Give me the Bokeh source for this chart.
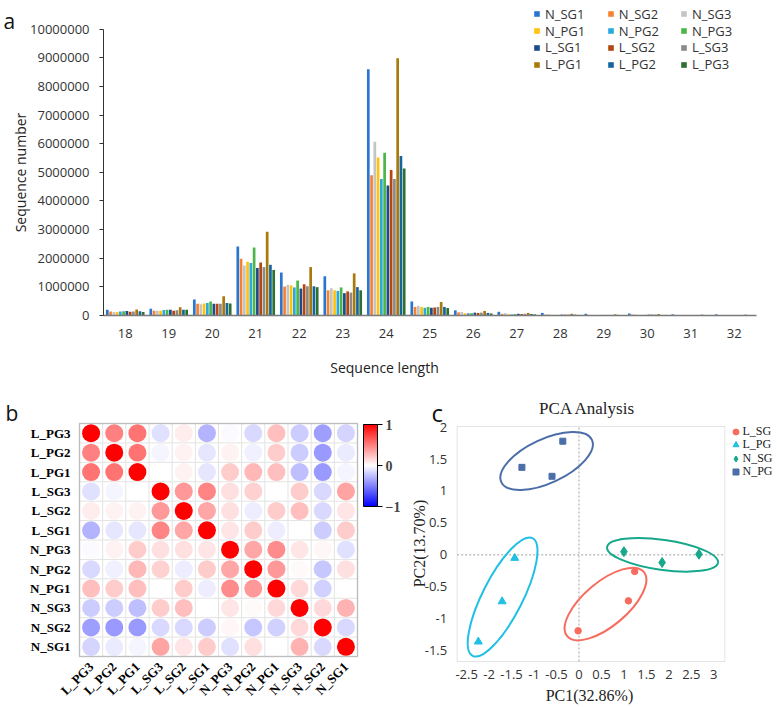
import math
from bokeh.plotting import figure
from bokeh.layouts import column, row
from bokeh.models import (ColumnDataSource, Range1d, FixedTicker, BasicTickFormatter,
                          Legend, LegendItem, Label, ColorBar, LinearColorMapper,
                          CustomJSTickFormatter, BoxAnnotation)
from bokeh.transform import dodge, transform
from bokeh.embed import file_html
from bokeh.resources import INLINE

# ---------------- panel a data ----------------
lengths = ["18", "19", "20", "21", "22", "23", "24", "25", "26", "27", "28", "29", "30", "31", "32"]
N_SG1 = [200000, 240000, 560000, 2410000, 1500000, 1370000, 8600000, 490000, 180000, 130000, 90000, 60000, 70000, 40000, 40000]
N_SG2 = [140000, 170000, 410000, 1980000, 1010000, 880000, 4900000, 300000, 110000, 60000, 30000, 20000, 30000, 10000, 10000]
N_SG3 = [120000, 170000, 390000, 1750000, 1070000, 950000, 6070000, 340000, 120000, 80000, 40000, 20000, 30000, 10000, 10000]
N_PG1 = [120000, 170000, 420000, 1880000, 1050000, 880000, 5520000, 300000, 80000, 40000, 20000, 10000, 20000, 10000, 10000]
N_PG2 = [140000, 190000, 440000, 1830000, 980000, 860000, 4770000, 270000, 80000, 40000, 20000, 10000, 20000, 10000, 10000]
N_PG3 = [150000, 200000, 490000, 2370000, 1220000, 980000, 5680000, 300000, 80000, 50000, 20000, 20000, 20000, 10000, 10000]
L_SG1 = [160000, 200000, 410000, 1660000, 940000, 780000, 4540000, 270000, 100000, 60000, 30000, 20000, 30000, 10000, 10000]
L_SG2 = [130000, 170000, 410000, 1850000, 1090000, 840000, 5080000, 280000, 90000, 50000, 30000, 20000, 30000, 10000, 10000]
L_SG3 = [140000, 180000, 410000, 1690000, 1020000, 800000, 4770000, 300000, 100000, 60000, 30000, 20000, 30000, 10000, 10000]
L_PG1 = [210000, 290000, 670000, 2920000, 1690000, 1470000, 8980000, 470000, 160000, 90000, 60000, 40000, 50000, 30000, 30000]
L_PG2 = [150000, 200000, 440000, 1770000, 1020000, 990000, 5570000, 300000, 90000, 50000, 30000, 20000, 20000, 10000, 10000]
L_PG3 = [120000, 200000, 420000, 1590000, 990000, 880000, 5130000, 260000, 70000, 40000, 20000, 10000, 20000, 10000, 10000]
series_names = ["N_SG1", "N_SG2", "N_SG3", "N_PG1", "N_PG2", "N_PG3",
                "L_SG1", "L_SG2", "L_SG3", "L_PG1", "L_PG2", "L_PG3"]
series_values = [N_SG1, N_SG2, N_SG3, N_PG1, N_PG2, N_PG3, L_SG1, L_SG2, L_SG3, L_PG1, L_PG2, L_PG3]
y_ticks_a = [0, 1000000, 2000000, 3000000, 4000000, 5000000, 6000000, 7000000, 8000000, 9000000, 10000000]

# ---------------- panel b data ----------------
corr_names = ["L_PG3", "L_PG2", "L_PG1", "L_SG3", "L_SG2", "L_SG1",
              "N_PG3", "N_PG2", "N_PG1", "N_SG3", "N_SG2", "N_SG1"]
corr = [
    [1.00, 0.50, 0.55, -0.12, 0.07, -0.30, -0.02, -0.15, 0.25, -0.20, -0.38, -0.17],
    [0.50, 1.00, 0.55, -0.04, 0.05, -0.10, 0.05, -0.06, 0.20, -0.20, -0.40, -0.08],
    [0.55, 0.55, 1.00, 0.00, 0.05, -0.10, 0.20, 0.28, 0.25, -0.25, -0.40, -0.04],
    [-0.12, -0.04, 0.00, 1.00, 0.40, 0.48, 0.12, 0.18, 0.00, 0.20, -0.15, 0.36],
    [0.07, 0.05, 0.05, 0.40, 1.00, 0.35, 0.12, -0.07, 0.20, 0.25, -0.15, 0.10],
    [-0.30, -0.10, -0.10, 0.48, 0.35, 1.00, 0.10, 0.20, -0.07, 0.00, -0.20, 0.20],
    [-0.02, 0.05, 0.20, 0.12, 0.12, 0.10, 1.00, 0.35, 0.45, 0.10, 0.03, -0.12],
    [-0.15, -0.06, 0.28, 0.18, -0.07, 0.20, 0.35, 1.00, 0.40, 0.02, -0.22, 0.12],
    [0.25, 0.20, 0.25, 0.00, 0.20, -0.07, 0.45, 0.40, 1.00, 0.15, -0.18, 0.00],
    [-0.20, -0.20, -0.25, 0.20, 0.25, 0.00, 0.10, 0.02, 0.15, 1.00, 0.15, 0.30],
    [-0.38, -0.40, -0.40, -0.15, -0.15, -0.20, 0.03, -0.22, -0.18, 0.15, 1.00, -0.15],
    [-0.17, -0.08, -0.04, 0.36, 0.10, 0.20, -0.12, 0.12, 0.00, 0.30, -0.15, 1.00],
]
cbar_ticks = [-1, 0, 1]

# ---------------- panel c data ----------------
pca_groups = ["L_SG", "L_PG", "N_SG", "N_PG"]
L_SG_pc1 = [1.24, 1.10, -0.02]
L_SG_pc2 = [-0.26, -0.72, -1.19]
L_PG_pc1 = [-1.43, -1.71, -2.24]
L_PG_pc2 = [-0.05, -0.73, -1.36]
N_SG_pc1 = [1.00, 1.85, 2.67]
N_SG_pc2 = [0.05, -0.12, 0.01]
N_PG_pc1 = [-1.27, -0.60, -0.36]
N_PG_pc2 = [1.37, 1.23, 1.78]
pca_pc1 = [L_SG_pc1, L_PG_pc1, N_SG_pc1, N_PG_pc1]
pca_pc2 = [L_SG_pc2, L_PG_pc2, N_SG_pc2, N_PG_pc2]
ellipse_cx = [0.59, -1.70, 1.86, -0.72]
ellipse_cy = [-0.77, -0.66, 0.00, 1.47]
pca_xticks = [-2.5, -2, -1.5, -1, -0.5, 0, 0.5, 1, 1.5, 2, 2.5, 3]
pca_yticks = [-1.5, -1, -0.5, 0, 0.5, 1, 1.5, 2]
pca_box = [-2.71, 3.245, -1.67, 2.01]   # left, right, bottom, top of plot box

# ---------------- styles ----------------
bar_colors = ["#2A76CF", "#F58233", "#C4C4C4", "#FFC20E", "#2AA8E0", "#4CB648",
              "#1C4A8C", "#B4460F", "#8A8A8A", "#A9790C", "#17659E", "#2D7030"]
pca_colors = ["#F76C5E", "#20BFE4", "#16A88A", "#4B6EA9"]
pca_markers = ["circle", "triangle", "diamond", "square"]
pca_sizes = [6.5, 8, 10, 6]
ellipse_w_px = [100, 132, 112, 100]
ellipse_h_px = [44, 40, 30, 44]
ellipse_deg = [40, 63, -8, 25]
SANS = "Open Sans"
SERIF = "Liberation Serif"
OX, OY = 0, 0           # page offset of the layout (content starts at picture corner)


def make_fig(w, h, xr, yr):
    p = figure(width=w, height=h, x_range=xr, y_range=yr, output_backend="svg",
               toolbar_location=None, min_border=0, min_border_left=0, min_border_right=0,
               min_border_top=0, min_border_bottom=0)
    p.outline_line_color = None
    p.grid.visible = False
    p.background_fill_color = "white"
    p.border_fill_color = "white"
    return p


def page_label(p, fx, fb, text, px, py, size, font=SANS, style="normal", align="left",
               baseline="alphabetic", angle=0.0, color="#000000"):
    # fx: page x of frame left, fb: page y of frame bottom
    p.add_layout(Label(x=px - fx, y=fb - py, x_units="screen", y_units="screen", text=text,
                       text_font=font, text_font_size=size, text_font_style=style,
                       text_align=align, text_baseline=baseline, angle=angle,
                       text_color=color))


# ================= panel a =================
A_W, A_H = 777, 380
A_FX, A_FB = OX, OY + A_H
cat_px = 43.5
x0_page, y0_page, px_per_m = 103, 315, 28.64
xa0 = -(x0_page - A_FX) / cat_px
xa1 = xa0 + A_W / cat_px
ya1 = (y0_page - OY) / px_per_m * 1e6
ya0 = -(A_FB - y0_page) / px_per_m * 1e6
pa = make_fig(A_W, A_H, Range1d(xa0, xa1), Range1d(ya0, ya1))

data_a = {"xi": [i + 0.5 for i in range(len(lengths))]}
for name, vals in zip(series_names, series_values):
    data_a[name] = vals
src_a = ColumnDataSource(data_a)

bar_renderers = []
slot = 0.075
for j, name in enumerate(series_names):
    r = pa.vbar(x=dodge("xi", (j - 5.5) * slot), top=name, width=0.062,
                source=src_a, fill_color=bar_colors[j], line_color=None)
    bar_renderers.append(r)

pa.xaxis.fixed_location = 0
pa.xaxis.bounds = (0, len(lengths))
pa.xaxis.ticker = FixedTicker(ticks=[i + 0.5 for i in range(len(lengths))])
pa.xaxis.formatter = CustomJSTickFormatter(args=dict(names=lengths),
                                           code="return names[Math.floor(tick)]")
pa.xaxis.axis_line_color = "#7A7A7A"
pa.xaxis.axis_line_width = 1.5
pa.xaxis.major_tick_line_color = None
pa.xaxis.minor_tick_line_color = None
pa.xaxis.major_label_standoff = 7
pa.xaxis.major_label_text_font = SANS
pa.xaxis.major_label_text_font_size = "13px"
pa.xaxis.major_label_text_color = "#333333"

pa.yaxis.fixed_location = 0
pa.yaxis.bounds = (0, 10000000)
pa.yaxis.ticker = FixedTicker(ticks=y_ticks_a)
pa.yaxis.formatter = BasicTickFormatter(use_scientific=False)
pa.yaxis.axis_line_color = "#333333"
pa.yaxis.major_tick_line_color = "#333333"
pa.yaxis.major_tick_out = 4
pa.yaxis.major_tick_in = 0
pa.yaxis.minor_tick_line_color = None
pa.yaxis.major_label_standoff = 10
pa.yaxis.major_label_text_font = SANS
pa.yaxis.major_label_text_font_size = "13px"
pa.yaxis.major_label_text_color = "#333333"

col_x = [533, 606.7, 680]
for idx, (name, r) in enumerate(zip(series_names, bar_renderers)):
    c = idx % 3
    rr = idx // 3
    yc = 14 + 16.8 * rr
    leg = Legend(items=[LegendItem(label=name, renderers=[r])],
                 location=(col_x[c] - A_FX, A_FB - (yc + 8.8)),
                 glyph_width=7, glyph_height=7, label_standoff=5, label_height=17,
                 label_text_font=SANS, label_text_font_size="13px", label_text_color="#333333",
                 padding=0, margin=0, spacing=0, border_line_color=None,
                 background_fill_alpha=0)
    pa.add_layout(leg)

page_label(pa, A_FX, A_FB, "Sequence number", 20, 172, "14px", align="center",
           baseline="middle", angle=math.pi / 2, color="#222222")
page_label(pa, A_FX, A_FB, "Sequence length", 384, 367, "14px", align="center",
           baseline="middle", color="#222222")
page_label(pa, A_FX, A_FB, "a", 3, 20, "21px", color="#111111")

# ================= panel b =================
B_W, B_H = 405, 327
B_FX, B_FB = OX, OY + A_H + B_H
box_l, box_r, box_t, box_b = 79, 357, 423, 656
cw = (box_r - box_l) / 12.0
ch = (box_b - box_t) / 12.0
xb0 = -(box_l - B_FX) / cw
xb1 = xb0 + B_W / cw
yb0 = -(B_FB - box_b) / ch
yb1 = yb0 + B_H / ch
pb = make_fig(B_W, B_H, Range1d(xb0, xb1), Range1d(yb0, yb1))

palette = []
for k in range(201):
    t = -1 + k * 0.01
    if t < 0:
        g = int(round(255 * (1 + t)))
        palette.append("#%02x%02xff" % (g, g))
    else:
        g = int(round(255 * (1 - t)))
        palette.append("#ff%02x%02x" % (g, g))
mapper = LinearColorMapper(palette=palette, low=-1, high=1)

n = len(corr_names)
edges = list(range(n + 1))
pb.segment(x0=edges, y0=[0] * (n + 1), x1=edges, y1=[n] * (n + 1), line_color="#E3E3E3", line_width=1)
pb.segment(x0=[0] * (n + 1), y0=edges, x1=[n] * (n + 1), y1=edges, line_color="#E3E3E3", line_width=1)

cx, cy, cv = [], [], []
for i, rowvals in enumerate(corr):
    for j, v in enumerate(rowvals):
        cx.append(j + 0.5)
        cy.append(n - 0.5 - i)
        cv.append(v)
src_b = ColumnDataSource(dict(x=cx, y=cy, r=cv))
pb.scatter(x="x", y="y", source=src_b, marker="circle", size=18,
           fill_color=transform("r", mapper), line_color=None)
pb.add_layout(BoxAnnotation(left=0, right=n, bottom=0, top=n, fill_alpha=0,
                            line_color="#666666", line_width=1.5))

pb.xaxis.fixed_location = 0
pb.yaxis.fixed_location = 0
pb.xaxis.ticker = FixedTicker(ticks=[j + 0.5 for j in range(n)])
pb.yaxis.ticker = FixedTicker(ticks=[j + 0.5 for j in range(n)])
pb.xaxis.formatter = CustomJSTickFormatter(args=dict(names=corr_names),
                                           code="return names[Math.floor(tick)]")
pb.yaxis.formatter = CustomJSTickFormatter(args=dict(names=corr_names),
                                           code="return names[names.length - 1 - Math.floor(tick)]")
pb.xaxis.major_label_orientation = math.pi / 4
for ax in (pb.xaxis, pb.yaxis):
    ax.axis_line_color = None
    ax.major_tick_line_color = None
    ax.minor_tick_line_color = None
    ax.major_label_text_font = SERIF
    ax.major_label_text_font_style = "bold"
    ax.major_label_text_font_size = "13px"
    ax.major_label_text_color = "#000000"
pb.yaxis.major_label_standoff = 3
pb.xaxis.major_label_standoff = 2

cbar = ColorBar(color_mapper=mapper, ticker=FixedTicker(ticks=cbar_ticks),
                location=(363 - B_FX, B_FB - 506), width=14, height=82, padding=0, margin=0,
                bar_line_color="#000000", major_tick_out=5, major_tick_in=0,
                major_tick_line_color="#000000", label_standoff=3,
                major_label_text_font=SERIF, major_label_text_font_style="bold",
                major_label_text_font_size="14px", background_fill_alpha=0,
                border_line_color=None)
pb.add_layout(cbar)
page_label(pb, B_FX, B_FB, "b", 5, 412, "21px", color="#111111")

# ================= panel c =================
C_W, C_H = 372, 327
C_FX, C_FB = OX + B_W, OY + A_H + C_H
c_left_px, c_right_px, c_top_px, c_bot_px = 456.7, 724.3, 426, 661
sx_c = (c_right_px - c_left_px) / (pca_box[1] - pca_box[0])
sy_c = (c_bot_px - c_top_px) / (pca_box[3] - pca_box[2])
xc0 = pca_box[0] - (c_left_px - C_FX) / sx_c
xc1 = xc0 + C_W / sx_c
yc0 = pca_box[2] - (C_FB - c_bot_px) / sy_c
yc1 = yc0 + C_H / sy_c
pc = make_fig(C_W, C_H, Range1d(xc0, xc1), Range1d(yc0, yc1))

pc.segment(x0=[0, pca_box[0]], y0=[pca_box[2], 0], x1=[0, pca_box[1]], y1=[pca_box[3], 0],
           line_color="#A0A0A0", line_dash="2 2", line_width=1)

src_e = ColumnDataSource(dict(cx=ellipse_cx, cy=ellipse_cy, w=ellipse_w_px, h=ellipse_h_px,
                              a=[math.radians(d) for d in ellipse_deg], c=pca_colors))
pc.ellipse(x="cx", y="cy", width="w", height="h", angle="a", width_units="screen",
           height_units="screen", source=src_e, fill_color=None, line_color="c", line_width=2)

pca_renderers = []
for g, xs, ys, col, mk, sz in zip(pca_groups, pca_pc1, pca_pc2, pca_colors, pca_markers, pca_sizes):
    r = pc.scatter(x=xs, y=ys, marker=mk, size=sz, fill_color=col, line_color=col)
    pca_renderers.append(r)

pc.add_layout(BoxAnnotation(left=pca_box[0], right=pca_box[1], bottom=pca_box[2], top=pca_box[3],
                            fill_alpha=0, line_color="#A6A6A6", line_width=1))

pc.xaxis.fixed_location = pca_box[2]
pc.yaxis.fixed_location = pca_box[0]
pc.xaxis.ticker = FixedTicker(ticks=pca_xticks)
pc.yaxis.ticker = FixedTicker(ticks=pca_yticks)
fmt = CustomJSTickFormatter(code="return String(Math.round(tick * 10) / 10)")
pc.xaxis.formatter = fmt
pc.yaxis.formatter = fmt
for ax in (pc.xaxis, pc.yaxis):
    ax.axis_line_color = None
    ax.major_tick_line_color = None
    ax.minor_tick_line_color = None
    ax.major_label_text_font = SANS
    ax.major_label_text_font_size = "13px"
    ax.major_label_text_color = "#333333"
    ax.major_label_standoff = 4
pc.xaxis.major_label_standoff = 2

for k, (g, r) in enumerate(zip(pca_groups, pca_renderers)):
    ycen = 431 + 13.5 * k
    leg = Legend(items=[LegendItem(label=g, renderers=[r])],
                 location=(735 - 7.5 - C_FX, C_FB - (ycen + 7.5)),
                 glyph_width=15, glyph_height=15, label_standoff=0, label_height=13,
                 label_text_font=SERIF, label_text_font_size="12px", label_text_color="#222222",
                 padding=0, margin=0, spacing=0, border_line_color=None,
                 background_fill_alpha=0)
    pc.add_layout(leg)

page_label(pc, C_FX, C_FB, "PCA Analysis", 587, 408, "17px", font=SERIF,
           align="center", baseline="middle", color="#222222")
page_label(pc, C_FX, C_FB, "PC1(32.86%)", 589, 695, "16px", font=SERIF,
           align="center", baseline="middle", color="#222222")
page_label(pc, C_FX, C_FB, "PC2(13.70%)", 419, 543, "16px", font=SERIF,
           align="center", baseline="middle", angle=math.pi / 2, color="#222222")
page_label(pc, C_FX, C_FB, "c", 431, 412, "24px", color="#111111")

layout = column(pa, row(pb, pc))
open("out.html", "w").write(file_html(layout, INLINE))
